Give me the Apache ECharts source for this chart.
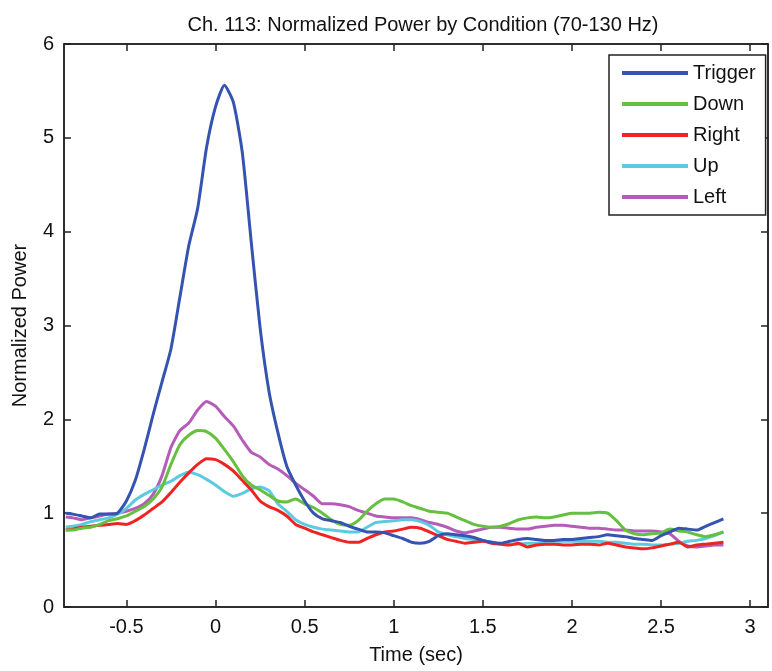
<!DOCTYPE html>
<html>
<head>
<meta charset="utf-8">
<script src="https://cdn.jsdelivr.net/npm/echarts@6/dist/echarts.min.js"></script>
<style>
  html, body { margin: 0; padding: 0; background: #fff; }
  #chart { width: 772px; height: 671px; }
</style>
</head>
<body>
<div id="chart"></div>
<script>
var times = [-0.84, -0.8, -0.75, -0.7, -0.65, -0.6, -0.55, -0.5, -0.45, -0.4, -0.35, -0.3, -0.25, -0.2, -0.15, -0.1, -0.05,
    0, 0.05, 0.1, 0.15, 0.2, 0.25, 0.3, 0.35, 0.4, 0.45, 0.5, 0.55, 0.6, 0.65, 0.7, 0.75, 0.8, 0.85, 0.9, 0.95,
    1.0, 1.05, 1.1, 1.15, 1.2, 1.25, 1.3, 1.35, 1.4, 1.45, 1.5, 1.55, 1.6, 1.65, 1.7, 1.75, 1.8, 1.85, 1.9, 1.95,
    2.0, 2.05, 2.1, 2.15, 2.2, 2.25, 2.3, 2.35, 2.4, 2.45, 2.5, 2.55, 2.6, 2.65, 2.7, 2.75, 2.8, 2.85];

var trigger = [1.0, 0.99, 0.97, 0.95, 0.99, 0.99, 1.0, 1.13, 1.35, 1.68, 2.05, 2.4, 2.75, 3.3, 3.85, 4.25, 4.9,
    5.33, 5.56, 5.38, 4.85, 3.9, 2.98, 2.3, 1.86, 1.5, 1.3, 1.13, 1.0, 0.94, 0.92, 0.9, 0.86, 0.83, 0.8, 0.8, 0.79,
    0.76, 0.73, 0.69, 0.68, 0.7, 0.76, 0.78, 0.77, 0.76, 0.74, 0.71, 0.69, 0.68, 0.7, 0.72, 0.73, 0.72, 0.71, 0.71, 0.72,
    0.72, 0.73, 0.74, 0.75, 0.77, 0.76, 0.75, 0.73, 0.72, 0.71, 0.76, 0.8, 0.84, 0.83, 0.82, 0.86, 0.9, 0.94];

var down = [0.82, 0.82, 0.84, 0.85, 0.88, 0.92, 0.94, 0.97, 1.02, 1.07, 1.15, 1.28, 1.52, 1.73, 1.83, 1.88, 1.87,
    1.8, 1.68, 1.55, 1.4, 1.3, 1.25, 1.19, 1.13, 1.12, 1.15, 1.1, 1.06, 1.0, 0.93, 0.88, 0.87, 0.92, 1.02, 1.1, 1.15,
    1.15, 1.12, 1.08, 1.05, 1.02, 1.01, 1.0, 0.96, 0.92, 0.88, 0.86, 0.85, 0.86, 0.89, 0.93, 0.95, 0.96, 0.95, 0.96, 0.98,
    1.0, 1.0, 1.0, 1.01, 1.0, 0.92, 0.82, 0.78, 0.77, 0.78, 0.79, 0.83, 0.81, 0.8, 0.77, 0.75, 0.77, 0.8];

var right = [0.82, 0.83, 0.85, 0.86, 0.87, 0.88, 0.89, 0.88, 0.92, 0.98, 1.05, 1.12, 1.22, 1.33, 1.43, 1.52, 1.58,
    1.57, 1.52, 1.45, 1.35, 1.25, 1.13, 1.07, 1.03, 0.97, 0.88, 0.84, 0.8, 0.77, 0.74, 0.71, 0.69, 0.69, 0.73, 0.77, 0.8,
    0.81, 0.83, 0.85, 0.84, 0.8, 0.76, 0.72, 0.7, 0.68, 0.69, 0.7, 0.68, 0.67, 0.66, 0.68, 0.64, 0.66, 0.67, 0.67, 0.66,
    0.66, 0.67, 0.67, 0.66, 0.68, 0.66, 0.64, 0.63, 0.62, 0.63, 0.65, 0.67, 0.69, 0.64, 0.66, 0.67, 0.68, 0.69];

var up = [0.85, 0.86, 0.88, 0.91, 0.93, 0.95, 0.99, 1.05, 1.14, 1.2, 1.25, 1.3, 1.34, 1.4, 1.44, 1.41, 1.36,
    1.3, 1.23, 1.18, 1.21, 1.26, 1.28, 1.24, 1.1, 1.02, 0.93, 0.88, 0.85, 0.83, 0.82, 0.81, 0.8, 0.8, 0.85, 0.9, 0.91,
    0.92, 0.93, 0.93, 0.91, 0.87, 0.8, 0.77, 0.75, 0.73, 0.72, 0.71, 0.69, 0.67, 0.67, 0.67, 0.68, 0.68, 0.69, 0.7, 0.7,
    0.7, 0.7, 0.7, 0.7, 0.69, 0.69, 0.68, 0.67, 0.67, 0.66, 0.66, 0.67, 0.68, 0.7, 0.71, 0.73, 0.76, 0.8];

var left = [0.96, 0.95, 0.93, 0.95, 0.97, 0.99, 1.0, 1.02, 1.05, 1.1, 1.2, 1.4, 1.7, 1.88, 1.96, 2.1, 2.19,
    2.14, 2.03, 1.93, 1.78, 1.65, 1.6, 1.52, 1.47, 1.4, 1.32, 1.25, 1.18, 1.1, 1.1, 1.09, 1.07, 1.03, 1.0, 0.97, 0.96,
    0.95, 0.95, 0.95, 0.93, 0.9, 0.88, 0.85, 0.81, 0.79, 0.81, 0.83, 0.85, 0.85, 0.84, 0.83, 0.83, 0.85, 0.86, 0.87, 0.87,
    0.86, 0.85, 0.84, 0.84, 0.83, 0.82, 0.82, 0.81, 0.81, 0.81, 0.8, 0.78, 0.7, 0.65, 0.64, 0.65, 0.66, 0.66];

var names = ["Trigger", "Down", "Right", "Up", "Left"];
var colors = ["#3553b0", "#66c040", "#ee2424", "#5ccbe0", "#b45cb8"];
var values = [trigger, down, right, up, left];

var xTicks = [-0.5, 0, 0.5, 1, 1.5, 2, 2.5, 3];

var font = "'Liberation Sans', Arial, sans-serif";

function pairs(vals){
    return times.map(function(t, i){ return [t, vals[i]]; });
}

var chart = echarts.init(document.getElementById("chart"));

var series = [];
for (var i = 0; i < names.length; i++) {
    series.push({
        name: names[i],
        type: "line",
        data: pairs(values[i]),
        symbol: "none",
        smooth: 0.2,
        lineStyle: { width: 3, color: colors[i] },
        itemStyle: { color: colors[i] },
        z: 10 - i
    });
}

var axisColor = "#222";

var option = {
    animation: false,
    backgroundColor: "#fff",
    textStyle: { fontFamily: font },
    title: {
        text: "Ch. 113: Normalized Power by Condition (70-130 Hz)",
        left: 418,
        textAlign: "center",
        top: 10,
        textStyle: { fontSize: 20, fontWeight: "normal", color: "#111", fontFamily: font }
    },
    legend: {
        orient: "vertical",
        left: 609,
        top: 55,
        data: names,
        icon: "rect",
        itemWidth: 66,
        itemHeight: 4,
        itemGap: 11,
        padding: [8, 10, 8, 13],
        borderColor: axisColor,
        borderWidth: 1.5,
        backgroundColor: "#fff",
        textStyle: { fontSize: 20, color: "#111", fontFamily: font, lineHeight: 20 }
    },
    grid: {
        left: 64, right: 4, top: 44, bottom: 64,
        show: true,
        borderColor: axisColor,
        borderWidth: 1.5
    },
    xAxis: [{
        type: "value",
        min: -0.85,
        max: 3.1,
        name: "Time (sec)",
        nameLocation: "middle",
        nameGap: 38,
        nameTextStyle: { fontSize: 20, color: "#111", fontFamily: font },
        axisLine: { onZero: false, lineStyle: { color: axisColor, width: 1.5 } },
        axisTick: { inside: true, length: 7, customValues: xTicks, lineStyle: { color: axisColor, width: 1.5 } },
        axisLabel: { customValues: xTicks, fontSize: 20, color: "#111", margin: 10, fontFamily: font },
        splitLine: { show: false }
    }, {
        type: "value",
        position: "top",
        min: -0.85,
        max: 3.1,
        axisLine: { onZero: false, lineStyle: { color: axisColor, width: 1.5 } },
        axisTick: { inside: true, length: 7, customValues: xTicks, lineStyle: { color: axisColor, width: 1.5 } },
        axisLabel: { show: false },
        splitLine: { show: false }
    }],
    yAxis: [{
        type: "value",
        min: 0,
        max: 6,
        interval: 1,
        name: "Normalized Power",
        nameLocation: "middle",
        nameGap: 34,
        nameTextStyle: { fontSize: 20, color: "#111", fontFamily: font },
        axisLine: { show: true, onZero: false, lineStyle: { color: axisColor, width: 1.5 } },
        axisTick: { show: true, inside: true, length: 7, lineStyle: { color: axisColor, width: 1.5 } },
        axisLabel: { fontSize: 20, color: "#111", margin: 10, fontFamily: font },
        splitLine: { show: false }
    }, {
        type: "value",
        position: "right",
        min: 0,
        max: 6,
        interval: 1,
        axisLine: { show: true, onZero: false, lineStyle: { color: axisColor, width: 1.5 } },
        axisTick: { show: true, inside: true, length: 7, lineStyle: { color: axisColor, width: 1.5 } },
        axisLabel: { show: false },
        splitLine: { show: false }
    }],
    series: series
};

chart.setOption(option);
</script>
</body>
</html>
